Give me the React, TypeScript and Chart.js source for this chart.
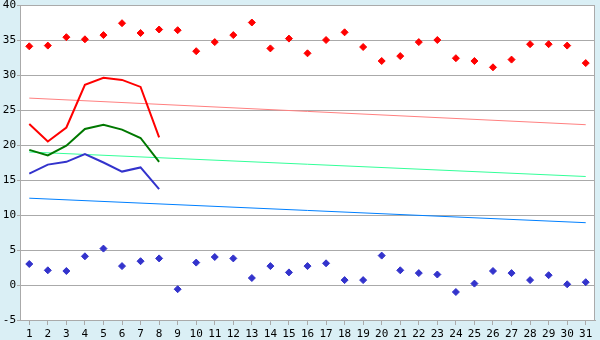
import React, { useEffect, useRef } from "react";
import { Chart, registerables } from "chart.js";

Chart.register(...registerables);

const days = ["1","2","3","4","5","6","7","8","9","10","11","12","13","14","15","16","17","18","19","20","21","22","23","24","25","26","27","28","29","30","31"];

const maxPoints = [34.1,34.2,35.4,35.1,35.7,37.4,36.0,36.5,36.4,33.4,34.7,35.7,37.5,33.8,35.2,33.1,35.0,36.1,34.0,32.0,32.7,34.7,35.0,32.4,32.0,31.1,32.2,34.4,34.4,34.2,31.7];
const minPoints = [3.0,2.1,2.0,4.1,5.2,2.7,3.4,3.8,-0.6,3.2,4.0,3.8,1.0,2.7,1.8,2.7,3.1,0.7,0.7,4.2,2.1,1.7,1.5,-1.0,0.2,2.0,1.7,0.7,1.4,0.1,0.4];

const maxLine = [23.0,20.5,22.5,28.6,29.6,29.3,28.3,21.1];
const meanLine = [19.3,18.5,19.9,22.3,22.9,22.2,21.0,17.6];
const minLine = [15.9,17.2,17.6,18.7,17.5,16.2,16.8,13.7];

// trend lines: values read at day 1 and day 31
const maxTrend = [26.7, 22.9];
const meanTrend = [19.0, 15.5];
const minTrend = [12.4, 8.9];

const yTicks = { min: -5, max: 40, step: 5 };

function endpoints(pair: number[]) {
  const arr: (number | null)[] = days.map(() => null);
  arr[0] = pair[0];
  arr[days.length - 1] = pair[1];
  return arr;
}

const FONT = { family: "'DejaVu Sans Mono', monospace", size: 11 };
const GRID = "#aaaaaa";

export default function App() {
  const ref = useRef<HTMLCanvasElement | null>(null);
  useEffect(() => {
    document.body.style.margin = "0";
    const ctx = ref.current!;
    const bgPlugin = {
      id: "plotbg",
      beforeDraw(chart: any) {
        const { ctx, chartArea: a } = chart;
        ctx.save();
        ctx.fillStyle = "#daeff5";
        ctx.fillRect(0, 0, chart.width, chart.height);
        ctx.fillStyle = "#ffffff";
        ctx.fillRect(a.left, a.top, a.right - a.left, a.bottom - a.top);
        ctx.restore();
      },
      beforeDatasetsDraw(chart: any) {
        const { ctx, chartArea: a } = chart;
        ctx.save();
        ctx.strokeStyle = GRID;
        ctx.lineWidth = 1;
        ctx.beginPath();
        ctx.moveTo(Math.round(a.left) + 0.5, Math.round(a.top) + 0.5);
        ctx.lineTo(Math.round(a.right) - 0.5, Math.round(a.top) + 0.5);
        ctx.lineTo(Math.round(a.right) - 0.5, Math.round(a.bottom) + 0.5);
        ctx.stroke();
        ctx.restore();
      },
    };
    const pointDs = (data: number[], color: string) => ({
      type: "line" as const,
      data,
      showLine: false,
      pointStyle: "rectRot" as const,
      pointRadius: 3.5,
      pointBackgroundColor: color,
      pointBorderColor: color,
      pointBorderWidth: 1,
      borderColor: color,
    });
    const lineDs = (data: number[], color: string) => ({
      type: "line" as const,
      data,
      borderColor: color,
      borderWidth: 2,
      pointRadius: 0,
      tension: 0,
      fill: false,
    });
    const trendDs = (pair: number[], color: string) => ({
      type: "line" as const,
      data: endpoints(pair),
      borderColor: color,
      borderWidth: 1,
      pointRadius: 0,
      spanGaps: true,
      tension: 0,
      fill: false,
    });
    const chart = new Chart(ctx, {
      type: "line",
      data: {
        labels: days,
        datasets: [
          pointDs(maxPoints, "#ff0000"),
          pointDs(minPoints, "#3333cc"),
          lineDs(maxLine, "#ff0000"),
          lineDs(meanLine, "#007800"),
          lineDs(minLine, "#3333cc"),
          trendDs(maxTrend, "#ff8080"),
          trendDs(meanTrend, "#33ff99"),
          trendDs(minTrend, "#0080ff"),
        ] as any,
      },
      options: {
        responsive: false,
        animation: false,
        layout: { padding: { top: 5, right: 5, left: 0, bottom: 0 } },
        plugins: { legend: { display: false }, tooltip: { enabled: false } },
        scales: {
          x: {
            offset: true,
            grid: { display: true, drawOnChartArea: false, drawTicks: true, tickLength: 5, color: GRID, offset: false },
            border: { color: GRID },
            ticks: { color: "#000", font: FONT, padding: 3, maxRotation: 0, autoSkip: false },
            afterFit(scale: any) { scale.height = 20; scale.paddingLeft = 0; scale.paddingRight = 0; },
          },
          y: {
            min: yTicks.min,
            max: yTicks.max,
            grid: { color: GRID, tickLength: 3 },
            border: { color: GRID },
            ticks: { stepSize: yTicks.step, color: "#000", font: FONT, padding: 1 },
            afterFit(scale: any) { scale.width = 20; scale.paddingTop = 0; scale.paddingBottom = 0; },
          },
        },
      },
      plugins: [bgPlugin],
    });
    return () => chart.destroy();
  }, []);
  return (
    <div style={{ position: "absolute", left: 0, top: 0, width: 600, height: 340 }}>
      <canvas ref={ref} width={600} height={340} />
    </div>
  );
}
